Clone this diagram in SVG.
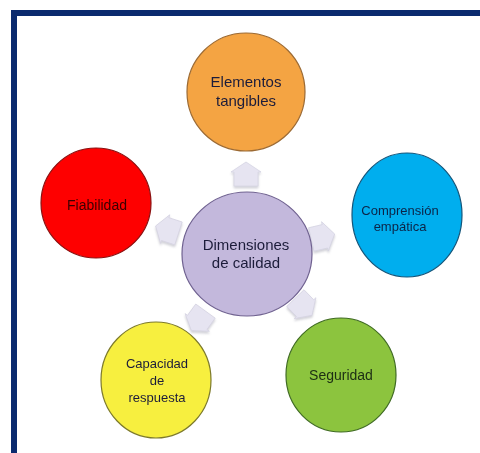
<svg xmlns="http://www.w3.org/2000/svg" width="480" height="453" viewBox="0 0 480 453">
  <style>
    .node { stroke-width: 1.2; }
    .lbl { font-family: "Liberation Sans", Arial, sans-serif; fill: #1c1c3a; text-anchor: middle; }
    .arrow { fill: #e6e4f1; stroke: #d6d4e3; stroke-width: 0.8; filter: url(#soft); }
  </style>
  <defs>
    <filter id="soft" x="-40%" y="-40%" width="180%" height="180%">
      <feDropShadow dx="0" dy="2" stdDeviation="1.2" flood-color="#9a9aa8" flood-opacity="0.45"/>
    </filter>
    <!-- outward arrow, pointing up, centred on the origin -->
    <polygon id="pointer" points="0,-13 15,-3 12,-3 12,11 -12,11 -12,-3 -15,-3"/>
  </defs>

  <rect width="480" height="453" fill="#ffffff"/>
  <!-- frame: open to the right and bottom -->
  <rect x="14" y="13" width="520" height="520" fill="none" stroke="#0b2a6e" stroke-width="6"/>

  <g id="connectors" class="arrow">
    <use href="#pointer" transform="translate(246,175)"/>
    <use href="#pointer" transform="translate(168,230) rotate(-72)"/>
    <use href="#pointer" transform="translate(322,237) rotate(77)"/>
    <use href="#pointer" transform="translate(303,306) rotate(136)"/>
    <use href="#pointer" transform="translate(199,320) rotate(-144)"/>
  </g>

  <g id="elementos">
    <circle class="node" cx="246" cy="92" r="59" fill="#f4a443" stroke="#9c6a33"/>
    <text class="lbl" x="246" y="87" font-size="15">Elementos</text>
    <text class="lbl" x="246" y="106" font-size="15">tangibles</text>
  </g>

  <g id="fiabilidad">
    <circle class="node" cx="96" cy="203" r="55" fill="#fe0000" stroke="#8a1010"/>
    <text class="lbl" x="97" y="210" font-size="14" style="fill:#3a0000">Fiabilidad</text>
  </g>

  <g id="comprension">
    <ellipse class="node" cx="407" cy="215" rx="55" ry="62" fill="#00aeee" stroke="#13557a"/>
    <text class="lbl" x="400" y="215" font-size="13" style="fill:#0c2447">Comprensión</text>
    <text class="lbl" x="400" y="231" font-size="13" style="fill:#0c2447">empática</text>
  </g>

  <g id="capacidad">
    <ellipse class="node" cx="156" cy="380" rx="55" ry="58" fill="#f7ef3f" stroke="#7d7a2a"/>
    <text class="lbl" x="157" y="368" font-size="13">Capacidad</text>
    <text class="lbl" x="157" y="385" font-size="13">de</text>
    <text class="lbl" x="157" y="402" font-size="13">respuesta</text>
  </g>

  <g id="seguridad">
    <ellipse class="node" cx="341" cy="375" rx="55" ry="57" fill="#8cc43e" stroke="#3f6b22"/>
    <text class="lbl" x="341" y="380" font-size="14" style="fill:#1c2e14">Seguridad</text>
  </g>

  <g id="dimensiones">
    <ellipse class="node" cx="247" cy="254" rx="65" ry="62" fill="#c3b8dc" stroke="#6f6190"/>
    <text class="lbl" x="246" y="250" font-size="15">Dimensiones</text>
    <text class="lbl" x="246" y="268" font-size="15">de calidad</text>
  </g>
</svg>
